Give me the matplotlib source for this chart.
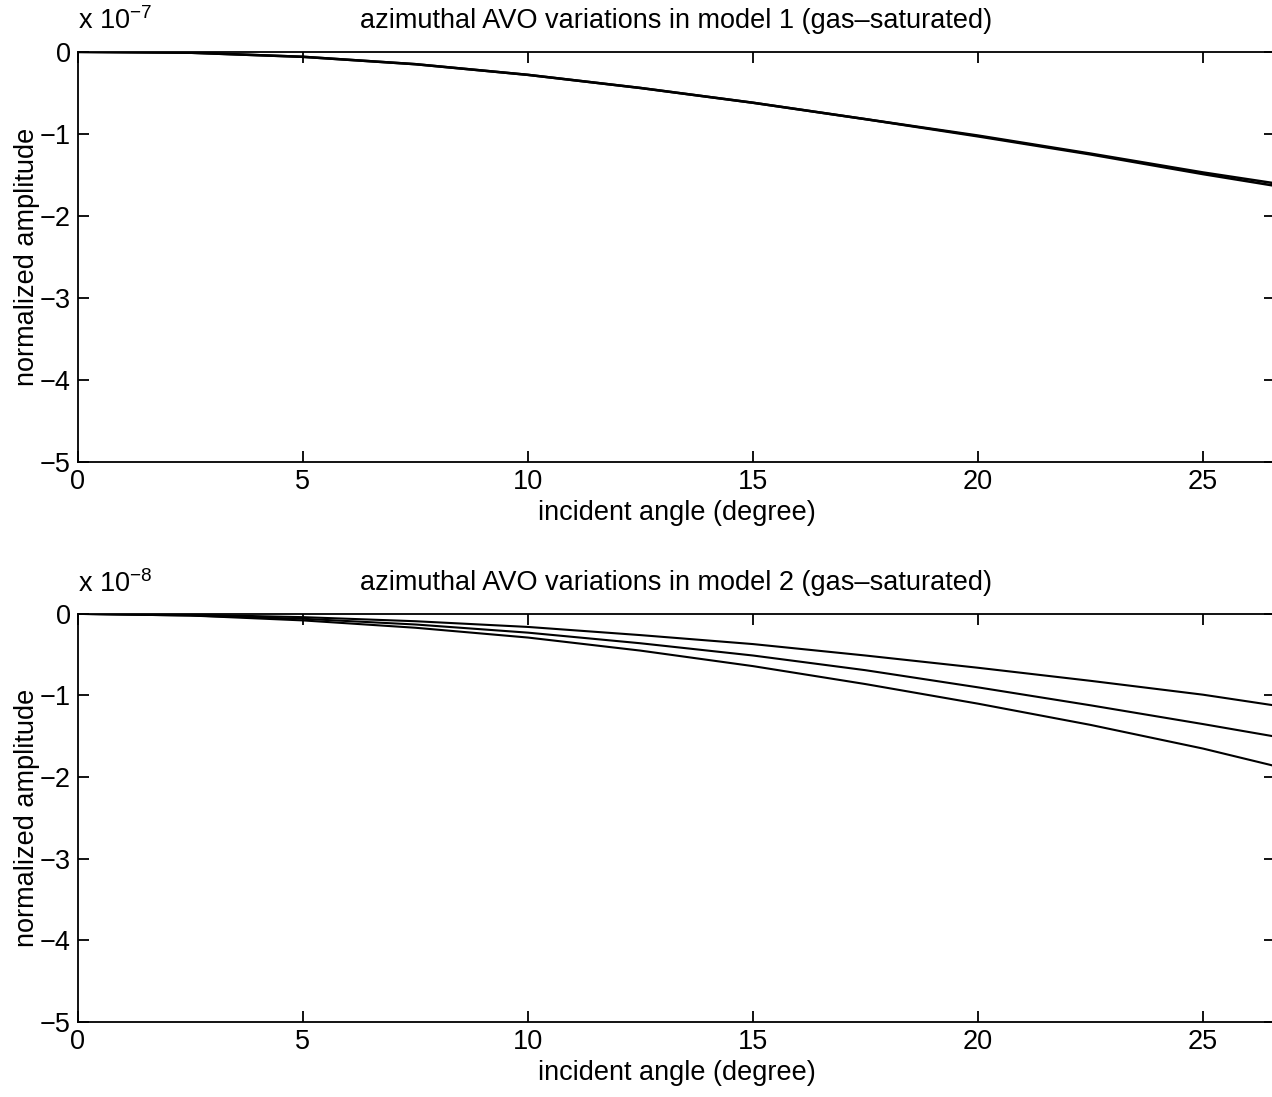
import matplotlib
matplotlib.use('Agg')
import matplotlib.pyplot as plt

plt.rcParams['font.family'] = ['Liberation Sans', 'DejaVu Sans']
plt.rcParams['mathtext.fontset'] = 'custom'
plt.rcParams['mathtext.rm'] = 'Liberation Sans'
plt.rcParams['mathtext.default'] = 'regular'

# incident angles (degree)
angles = [0, 2.5, 5, 7.5, 10, 12.5, 15, 17.5, 20, 22.5, 25, 26.57]

# model 1, units of 1e-7
m1_a = [0, -0.01, -0.06, -0.15, -0.28, -0.44, -0.62, -0.82, -1.02, -1.24, -1.47, -1.60]
m1_b = [0, -0.01, -0.06, -0.15, -0.28, -0.44, -0.62, -0.82, -1.03, -1.25, -1.49, -1.63]

# model 2, units of 1e-8
m2_a = [0, -0.01, -0.04, -0.09, -0.16, -0.26, -0.37, -0.51, -0.66, -0.82, -0.99, -1.12]
m2_b = [0, -0.02, -0.06, -0.13, -0.23, -0.36, -0.51, -0.69, -0.90, -1.12, -1.35, -1.50]
m2_c = [0, -0.02, -0.08, -0.17, -0.29, -0.45, -0.64, -0.86, -1.10, -1.36, -1.65, -1.86]

titles = ['azimuthal AVO variations in model 1 (gas\u2013saturated)',
          'azimuthal AVO variations in model 2 (gas\u2013saturated)']
exps = ['-7', '-8']

fs = 19.5
fig = plt.figure(figsize=(12.72, 10.97), dpi=100)
ax1 = fig.add_axes([0.0613, 0.5789, 0.941, 0.3738])
ax2 = fig.add_axes([0.0613, 0.0684, 0.941, 0.3720])

ax1.plot(angles, m1_a, color='black', lw=1.8)
ax1.plot(angles, m1_b, color='black', lw=1.8)
for s in (m2_a, m2_b, m2_c):
    ax2.plot(angles, s, color='black', lw=1.5)

for ax, t, e in zip((ax1, ax2), titles, exps):
    ax.set_xlim(0, 26.6)
    ax.set_ylim(-5, 0)
    ax.set_xticks([0, 5, 10, 15, 20, 25])
    ax.set_yticks([-5, -4, -3, -2, -1, 0])
    ax.tick_params(direction='in', length=8, width=1.3, labelsize=fs,
                   top=True, right=True, pad=5)
    for sp in ax.spines.values():
        sp.set_linewidth(1.3)
    ax.set_title(t, fontsize=fs, pad=17)
    ax.set_xlabel('incident angle (degree)', fontsize=fs, labelpad=4)
    ax.set_ylabel('normalized amplitude', fontsize=fs, labelpad=0)
    ax.text(0.0, 1.04, 'x 10$^{%s}$' % e.replace('-', '\u2212'),
            transform=ax.transAxes, fontsize=fs, ha='left', va='bottom')

fig.savefig('out.png', dpi=100)
